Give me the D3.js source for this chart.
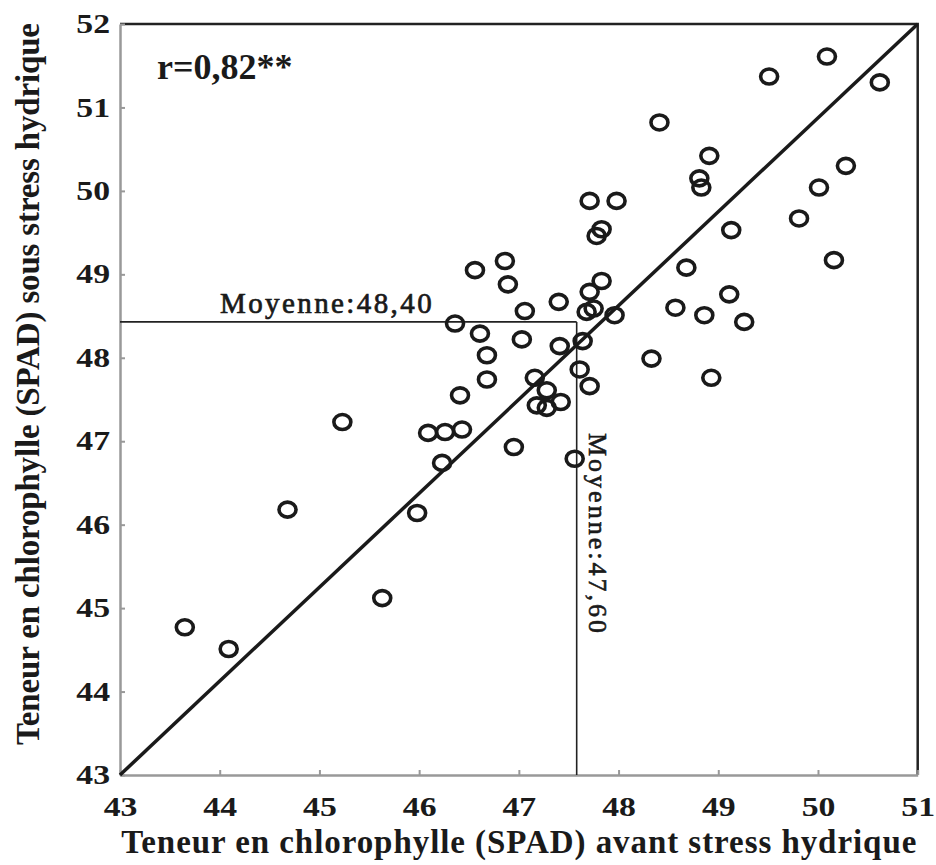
<!DOCTYPE html>
<meta charset="utf-8">
<head>
  <title>Chlorophylle SPAD</title>
</head>

<style>
body {
  margin: 0;
  background: #fff;
}
svg text {
  font-family: "Liberation Serif", "Times New Roman", serif;
  font-weight: bold;
  fill: #1a1a1a;
}
</style>

<body>
  <div id="content">
    <svg width="936" height="865"></svg>
  </div>

  <script src="https://cdnjs.cloudflare.com/ajax/libs/d3/7.8.5/d3.min.js"></script>

  <script>
// SPAD avant stress (x) / sous stress (y)
var avant = [43.65, 44.09, 44.68, 45.23, 45.63, 45.98, 46.09, 46.26, 46.43, 46.23,
  46.41, 46.36, 46.61, 46.68, 46.68, 46.56, 46.86, 46.89, 47.06, 47.03,
  46.95, 47.40, 47.41, 47.16, 47.28, 47.42, 47.18, 47.28, 47.56, 47.61,
  47.71, 47.64, 47.68, 47.75, 47.71, 47.83, 47.96, 47.71, 47.98, 47.83,
  47.78, 48.33, 48.57, 48.68, 48.86, 48.93, 49.11, 49.26, 49.13, 48.41,
  48.91, 48.81, 48.83, 49.51, 49.81, 50.01, 50.09, 50.16, 50.28, 50.62];
var sous = [44.77, 44.51, 46.18, 47.23, 45.12, 46.14, 47.10, 47.11, 47.14, 46.74,
  47.55, 48.41, 48.29, 48.03, 47.74, 49.05, 49.16, 48.88, 48.56, 48.22,
  46.93, 48.67, 48.14, 47.76, 47.61, 47.47, 47.43, 47.40, 46.79, 47.86,
  47.66, 48.20, 48.55, 48.59, 48.79, 48.92, 48.51, 49.88, 49.88, 49.54,
  49.46, 47.99, 48.60, 49.08, 48.51, 47.76, 48.76, 48.43, 49.53, 50.82,
  50.42, 50.15, 50.04, 51.37, 49.67, 50.04, 51.61, 49.17, 50.30, 51.30];

var xTicks = [43, 44, 45, 46, 47, 48, 49, 50, 51];
var yTicks = [43, 44, 45, 46, 47, 48, 49, 50, 51, 52];
var moyX = 47.58, moyXLabel = 'Moyenne:47,60';
var moyY = 48.43, moyYLabel = 'Moyenne:48,40';
var diag = [[43, 43], [51, 52]];
var rLabel = 'r=0,82**';

var svg = d3.select('#content svg');

var x = d3.scaleLinear().domain([43, 51]).range([120, 917.7]);
var y = d3.scaleLinear().domain([43, 52]).range([775, 24]);

// top / right frame
svg.append('path')
  .attr('d', 'M' + x(43) + ',' + y(52) + 'H' + x(51) + 'V' + y(43))
  .attr('fill', 'none')
  .attr('stroke', '#222')
  .attr('stroke-width', 2.5);

var xAxis = svg.append('g')
  .attr('transform', 'translate(0,' + y(43) + ')')
  .call(d3.axisBottom(x).tickValues(xTicks).tickFormat(d3.format('d'))
    .tickSizeInner(-5).tickSizeOuter(0).tickPadding(22));

var yAxis = svg.append('g')
  .attr('transform', 'translate(' + x(43) + ',0)')
  .call(d3.axisLeft(y).tickValues(yTicks).tickFormat(d3.format('d'))
    .tickSizeInner(-5).tickSizeOuter(0).tickPadding(10));

[xAxis, yAxis].forEach(function(a) {
  a.select('.domain').attr('stroke', '#999').attr('stroke-width', 2.5);
  a.selectAll('.tick line').attr('stroke', '#999').attr('stroke-width', 2);
  a.selectAll('.tick text')
    .style('font-family', '"Liberation Serif", serif')
    .style('font-weight', 'bold')
    .style('font-size', '27px')
    .attr('fill', '#1a1a1a');
});
// tick labels are drawn wide in the original
xAxis.selectAll('.tick text').attr('transform', 'scale(1.25,1)');
yAxis.selectAll('.tick text').attr('x', 0).attr('transform', 'translate(-10,0) scale(1.25,1)');

// mean lines
svg.append('line')
  .attr('x1', x(43)).attr('x2', x(moyX))
  .attr('y1', y(moyY)).attr('y2', y(moyY))
  .attr('stroke', '#222').attr('stroke-width', 1.6);
svg.append('line')
  .attr('x1', x(moyX)).attr('x2', x(moyX))
  .attr('y1', y(43)).attr('y2', y(moyY))
  .attr('stroke', '#222').attr('stroke-width', 1.6);

svg.append('text')
  .attr('x', 220).attr('y', 313)
  .style('font-size', '29px')
  .style('font-weight', 'normal')
  .style('letter-spacing', '2.4px')
  .attr('stroke', '#1a1a1a').attr('stroke-width', 0.7)
  .text(moyYLabel);

svg.append('text')
  .attr('transform', 'translate(' + (x(moyX) + 12) + ',433) rotate(90)')
  .style('font-size', '26px')
  .style('font-weight', 'normal')
  .style('letter-spacing', '3px')
  .attr('stroke', '#1a1a1a').attr('stroke-width', 0.6)
  .text(moyXLabel);

// diagonal
svg.append('line')
  .attr('x1', x(diag[0][0])).attr('y1', y(diag[0][1]))
  .attr('x2', x(diag[1][0])).attr('y2', y(diag[1][1]))
  .attr('stroke', '#1a1a1a').attr('stroke-width', 3.5);

// points
svg.append('g').selectAll('ellipse')
  .data(d3.range(avant.length))
  .enter().append('ellipse')
  .attr('cx', function(i) { return x(avant[i]); })
  .attr('cy', function(i) { return y(sous[i]); })
  .attr('rx', 8.5).attr('ry', 7.5)
  .attr('fill', 'none')
  .attr('stroke', '#1a1a1a')
  .attr('stroke-width', 3.6);

svg.append('text')
  .attr('x', 157).attr('y', 79)
  .style('font-size', '36px')
  .text(rLabel);

// axis titles
svg.append('text')
  .attr('x', (x(43) + x(51)) / 2).attr('y', 853)
  .attr('text-anchor', 'middle')
  .style('font-size', '33px')
  .attr('textLength', 795)
  .text('Teneur en chlorophylle (SPAD) avant stress hydrique');

svg.append('text')
  .attr('transform', 'translate(39,' + 384 + ') rotate(-90)')
  .attr('text-anchor', 'middle')
  .style('font-size', '33px')
  .attr('textLength', 722)
  .text('Teneur en chlorophylle (SPAD) sous stress hydrique');
  </script>
</body>
</html>
